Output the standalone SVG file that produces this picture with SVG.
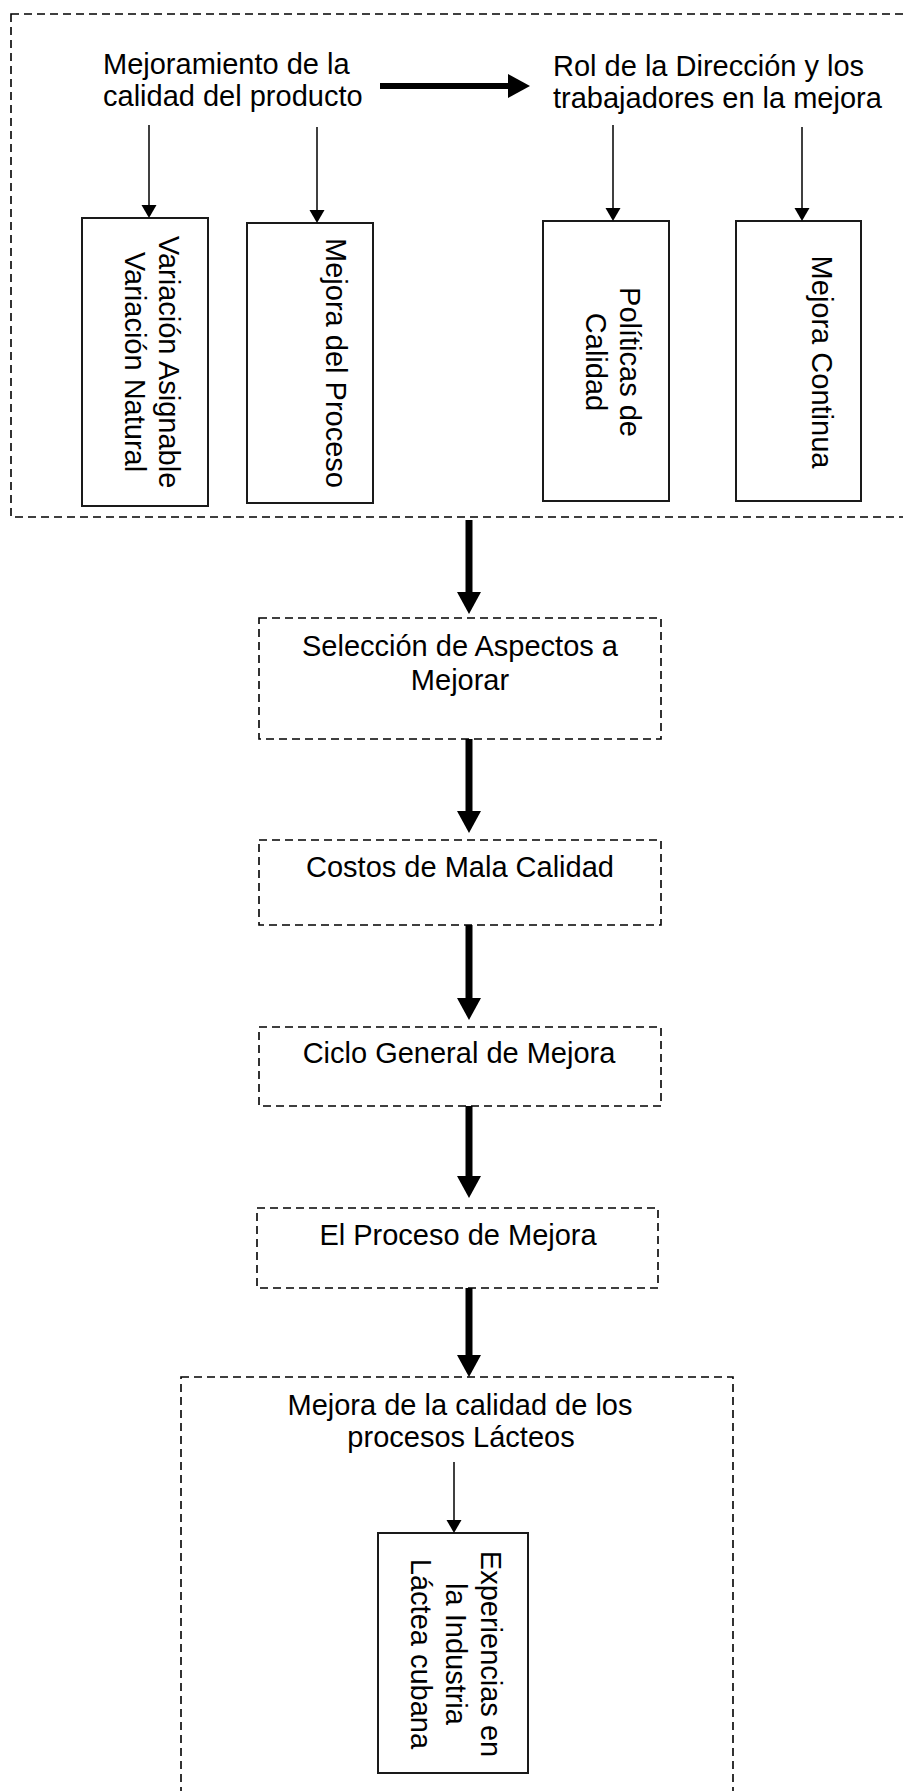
<svg xmlns="http://www.w3.org/2000/svg" width="903" height="1791" viewBox="0 0 903 1791">
  <style>
    .lbl { font-family: "Liberation Sans", Arial, sans-serif; font-size: 29px; fill: #000; }
    .mid { text-anchor: middle; }
    .solid { fill: #fff; stroke: #1a1a1a; stroke-width: 2; }
    .dash { fill: none; stroke: #000; stroke-width: 1.6; stroke-dasharray: 8 5; }
    .thin { stroke: #000; stroke-width: 1.5; fill: none; }
    .thick { stroke: #000; stroke-width: 7; fill: none; }
  </style>
  <defs>
    <marker id="headThin" markerUnits="userSpaceOnUse" markerWidth="14" markerHeight="16" refX="0" refY="7.5" orient="auto">
      <path d="M0,0 L13,7.5 L0,15 z" fill="#000"/>
    </marker>
    <marker id="headThick" markerUnits="userSpaceOnUse" markerWidth="23" markerHeight="25" refX="0" refY="12" orient="auto">
      <path d="M0,0 L22,12 L0,24 z" fill="#000"/>
    </marker>
  </defs>
  <rect width="903" height="1791" fill="#fff"/>

  <!-- upper group frame (runs off the right edge) -->
  <g id="grupo-superior">
    <rect class="dash" x="11" y="14" width="905" height="503"/>
    <text class="lbl" x="103" y="74">Mejoramiento de la</text>
    <text class="lbl" x="103" y="106">calidad del producto</text>
    <text class="lbl" x="553" y="76">Rol de la Dirección y los</text>
    <text class="lbl" x="553" y="108">trabajadores en la mejora</text>
  </g>

  <g id="variacion">
    <rect class="solid" x="82" y="218" width="126" height="288"/>
    <text class="lbl mid" transform="translate(159,362) rotate(90)">Variación Asignable</text>
    <text class="lbl mid" transform="translate(125,362) rotate(90)">Variación Natural</text>
  </g>
  <g id="mejora-proceso">
    <rect class="solid" x="247" y="223" width="126" height="280"/>
    <text class="lbl mid" transform="translate(326,363) rotate(90)">Mejora del Proceso</text>
  </g>
  <g id="politicas">
    <rect class="solid" x="543" y="221" width="126" height="280"/>
    <text class="lbl mid" transform="translate(620,362) rotate(90)">Políticas de</text>
    <text class="lbl mid" transform="translate(586,362) rotate(90)">Calidad</text>
  </g>
  <g id="mejora-continua">
    <rect class="solid" x="736" y="221" width="125" height="280"/>
    <text class="lbl mid" transform="translate(812,362) rotate(90)">Mejora Continua</text>
  </g>

  <g id="seleccion">
    <rect class="dash" x="259" y="618" width="402" height="121"/>
    <text class="lbl mid" x="460" y="656">Selección de Aspectos a</text>
    <text class="lbl mid" x="460" y="690">Mejorar</text>
  </g>
  <g id="costos">
    <rect class="dash" x="259" y="840" width="402" height="85"/>
    <text class="lbl mid" x="460" y="877">Costos de Mala Calidad</text>
  </g>
  <g id="ciclo">
    <rect class="dash" x="259" y="1027" width="402" height="79"/>
    <text class="lbl mid" x="459" y="1063">Ciclo General de Mejora</text>
  </g>
  <g id="proceso-mejora">
    <rect class="dash" x="257" y="1208" width="401" height="80"/>
    <text class="lbl mid" x="458" y="1245">El Proceso de Mejora</text>
  </g>

  <!-- lower group frame (runs off the bottom edge) -->
  <g id="grupo-lacteos">
    <rect class="dash" x="181" y="1377" width="552" height="450"/>
    <text class="lbl mid" x="460" y="1415">Mejora de la calidad de los</text>
    <text class="lbl mid" x="461" y="1447">procesos Lácteos</text>
  </g>
  <g id="experiencias">
    <rect class="solid" x="378" y="1533" width="150" height="240"/>
    <text class="lbl mid" transform="translate(481,1654) rotate(90)">Experiencias en</text>
    <text class="lbl mid" transform="translate(446,1654) rotate(90)">la Industria</text>
    <text class="lbl mid" transform="translate(411,1654) rotate(90)">Láctea cubana</text>
  </g>

  <g id="conectores">
    <!-- horizontal link between the two headings -->
    <line class="thick" style="stroke-width:6" x1="380" y1="86" x2="508" y2="86" marker-end="url(#headThick)"/>
    <!-- thin arrows into the detail boxes -->
    <line class="thin" x1="149" y1="125" x2="149" y2="205" marker-end="url(#headThin)"/>
    <line class="thin" x1="317" y1="127" x2="317" y2="210" marker-end="url(#headThin)"/>
    <line class="thin" x1="613" y1="125" x2="613" y2="208" marker-end="url(#headThin)"/>
    <line class="thin" x1="802" y1="127" x2="802" y2="208" marker-end="url(#headThin)"/>
    <line class="thin" x1="454" y1="1462" x2="454" y2="1520" marker-end="url(#headThin)"/>
    <!-- main vertical flow -->
    <line class="thick" x1="469" y1="520" x2="469" y2="592" marker-end="url(#headThick)"/>
    <line class="thick" x1="469" y1="739" x2="469" y2="811" marker-end="url(#headThick)"/>
    <line class="thick" x1="469" y1="925" x2="469" y2="998" marker-end="url(#headThick)"/>
    <line class="thick" x1="469" y1="1106" x2="469" y2="1176" marker-end="url(#headThick)"/>
    <line class="thick" x1="469" y1="1288" x2="469" y2="1355" marker-end="url(#headThick)"/>
  </g>
</svg>
